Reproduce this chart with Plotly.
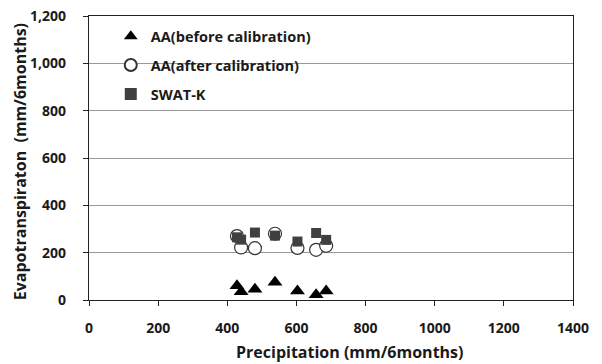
import plotly.graph_objects as go

precip = [428, 440, 480, 538, 603, 657, 686]
aa_before = [60, 35, 45, 75, 38, 22, 38]
aa_after = [270, 222, 219, 280, 220, 212, 229]
swat_k = [265, 255, 285, 272, 247, 283, 254]

x_ticks = [0, 200, 400, 600, 800, 1000, 1200, 1400]
y_ticks = [0, 200, 400, 600, 800, 1000, 1200]
y_labels = ["0", "200", "400", "600", "800", "1,000", "1,200"]

x_title = "Precipitation (mm/6months)"
y_title = "Evapotranspiraton  (mm/6months)"

font_family = "'Open Sans', sans-serif"
txt = "#1a1a1a"

fig = go.Figure()
fig.add_trace(go.Scatter(
    x=precip, y=aa_before, mode="markers", name="AA(before calibration)",
    legendgroup="a",
    marker=dict(symbol="triangle-up", size=13, color="black"),
))
fig.add_trace(go.Scatter(
    x=precip, y=aa_after, mode="markers", name="AA(after calibration)",
    legendgroup="b",
    marker=dict(symbol="circle", size=13, color="white",
                line=dict(color="#333333", width=1.2)),
))
fig.add_trace(go.Scatter(
    x=precip, y=swat_k, mode="markers", name="SWAT-K",
    legendgroup="c",
    marker=dict(symbol="square", size=10, color="#404040"),
))

fig.update_layout(
    width=602, height=364,
    margin=dict(l=89, r=29, t=16, b=64),
    paper_bgcolor="white", plot_bgcolor="white",
    font=dict(family=font_family, color=txt),
    showlegend=True,
    legend=dict(x=0.045, y=0.985, xanchor="left", yanchor="top",
                bgcolor="rgba(0,0,0,0)", tracegroupgap=7,
                font=dict(size=14.5, family=font_family, color=txt, weight="bold"),
                itemwidth=30, itemsizing="constant"),
    xaxis=dict(
        range=[0, 1400], tickvals=x_ticks, ticktext=[str(v) for v in x_ticks],
        showgrid=False, zeroline=False, automargin=False,
        showline=True, linecolor="#222222", linewidth=1.2, mirror=True,
        ticks="outside", ticklen=5, tickcolor="#222222",
        ticklabelstandoff=10,
        tickfont=dict(size=14, weight="bold", color=txt),
    ),
    yaxis=dict(
        range=[0, 1200], tickvals=y_ticks, ticktext=y_labels,
        showgrid=True, gridcolor="#999999", gridwidth=1, zeroline=False,
        automargin=False,
        showline=True, linecolor="#222222", linewidth=1.2, mirror=True,
        ticks="outside", ticklen=5, tickcolor="#222222",
        ticklabelstandoff=14,
        tickfont=dict(size=14, weight="bold", color=txt),
    ),
    annotations=[
        dict(text=x_title, xref="paper", yref="paper", x=0.539, y=-0.183,
             xanchor="center", yanchor="middle", showarrow=False,
             font=dict(size=16, weight="bold", color=txt, family=font_family)),
        dict(text=y_title, xref="paper", yref="paper", x=-0.142, y=0.486,
             xanchor="center", yanchor="middle", showarrow=False, textangle=-90,
             font=dict(size=16, weight="bold", color=txt, family=font_family)),
    ],
)

fig.write_html("out.html")
